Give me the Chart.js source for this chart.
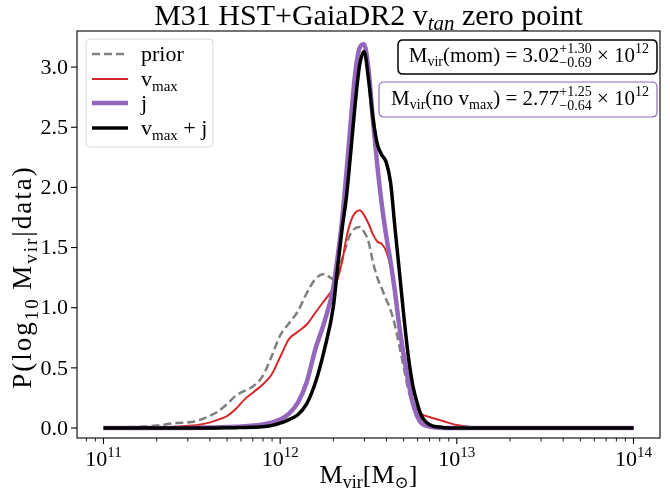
<!DOCTYPE html>
<html>
<head>
<meta charset="utf-8">
<script src="https://cdn.jsdelivr.net/npm/chart.js@4"></script>
<style>
html, body { margin: 0; padding: 0; background: #fff; }
#contenedor { width: 670px; height: 492px; }
</style>
</head>
<body>
<div id="contenedor"><canvas id="grafica" width="670" height="492"></canvas></div>
<script>
// Datos (log10 Mvir y densidad de probabilidad)
const logM = [11.0, 11.2, 11.3, 11.4, 11.5, 11.55, 11.6, 11.65, 11.7, 11.75, 11.8, 11.85, 11.9, 11.95,
    12.0, 12.05, 12.1, 12.15, 12.2, 12.25, 12.3, 12.325, 12.35, 12.375, 12.4, 12.425, 12.45, 12.475,
    12.5, 12.525, 12.55, 12.575, 12.6, 12.625, 12.65, 12.675, 12.7, 12.725, 12.75, 12.775, 12.8,
    12.85, 12.9, 12.95, 13.0, 13.1, 13.2, 13.5, 14.0];

const prior = [0, 0.01, 0.02, 0.04, 0.05, 0.07, 0.10, 0.14, 0.20, 0.27, 0.31, 0.35, 0.43, 0.59,
    0.77, 0.87, 0.97, 1.12, 1.24, 1.28, 1.24, 1.28, 1.40, 1.52, 1.62, 1.66, 1.67, 1.63,
    1.55, 1.38, 1.25, 1.16, 1.07, 0.98, 0.85, 0.68, 0.50, 0.32, 0.20, 0.12, 0.06,
    0.02, 0.01, 0.005, 0, 0, 0, 0, 0];

const vmax = [0, 0.003, 0.005, 0.01, 0.02, 0.03, 0.045, 0.07, 0.10, 0.16, 0.24, 0.30, 0.36, 0.44,
    0.59, 0.74, 0.80, 0.86, 0.96, 1.06, 1.16, 1.24, 1.38, 1.58, 1.72, 1.79, 1.81, 1.77,
    1.70, 1.61, 1.55, 1.53, 1.47, 1.34, 1.12, 0.85, 0.59, 0.38, 0.23, 0.15, 0.115,
    0.09, 0.068, 0.045, 0.025, 0.005, 0, 0, 0];

const jSolo = [0, 0, 0, 0, 0, 0.002, 0.004, 0.006, 0.008, 0.01, 0.015, 0.02, 0.03, 0.045,
    0.07, 0.12, 0.21, 0.38, 0.66, 0.88, 1.16, 1.42, 1.72, 2.12, 2.55, 2.95, 3.16, 3.19,
    2.98, 2.56, 2.18, 1.86, 1.60, 1.38, 1.13, 0.84, 0.60, 0.39, 0.21, 0.10, 0.04,
    0.01, 0.003, 0, 0, 0, 0, 0, 0];

const vmaxJ = [0, 0, 0, 0, 0, 0, 0, 0.001, 0.002, 0.003, 0.004, 0.006, 0.01, 0.02,
    0.04, 0.07, 0.11, 0.20, 0.38, 0.65, 1.00, 1.33, 1.65, 1.92, 2.30, 2.70, 3.02, 3.13,
    2.90, 2.58, 2.36, 2.27, 2.21, 2.04, 1.66, 1.30, 0.93, 0.60, 0.36, 0.21, 0.10,
    0.025, 0.008, 0, 0, 0, 0, 0, 0];

const yTicks = [0, 0.5, 1.0, 1.5, 2.0, 2.5, 3.0];
const xExponentes = [11, 12, 13, 14];

const FAM = '"Liberation Serif", "DejaVu Serif", serif';

function puntos(valores) {
    return logM.map((l, i) => ({ x: Math.pow(10, l), y: valores[i] }));
}

// Dibuja texto con subindices / superindices
function textoRico(ctx, partes, x, y, align) {
    const anchos = partes.map(p => {
        if (p.sup !== undefined) {
            ctx.font = p.s + 'px ' + FAM;
            return Math.max(ctx.measureText(p.sup).width, ctx.measureText(p.sub).width);
        }
        ctx.font = (p.it ? 'italic ' : '') + p.s + 'px ' + FAM;
        return ctx.measureText(p.t).width;
    });
    const total = anchos.reduce((a, b) => a + b, 0);
    let cx = x;
    if (align === 'center') cx = x - total / 2;
    if (align === 'right') cx = x - total;
    ctx.textAlign = 'left';
    ctx.textBaseline = 'alphabetic';
    partes.forEach((p, i) => {
        if (p.sup !== undefined) {
            ctx.font = p.s + 'px ' + FAM;
            ctx.fillText(p.sup, cx, y + p.up);
            ctx.fillText(p.sub, cx, y + p.dn);
        } else {
            ctx.font = (p.it ? 'italic ' : '') + p.s + 'px ' + FAM;
            ctx.fillText(p.t, cx, y + (p.dy || 0));
        }
        cx += anchos[i];
    });
    return total;
}

function cajaRedondeada(ctx, x0, y0, x1, y1, r) {
    ctx.beginPath();
    ctx.moveTo(x0 + r, y0);
    ctx.lineTo(x1 - r, y0);
    ctx.quadraticCurveTo(x1, y0, x1, y0 + r);
    ctx.lineTo(x1, y1 - r);
    ctx.quadraticCurveTo(x1, y1, x1 - r, y1);
    ctx.lineTo(x0 + r, y1);
    ctx.quadraticCurveTo(x0, y1, x0, y1 - r);
    ctx.lineTo(x0, y0 + r);
    ctx.quadraticCurveTo(x0, y0, x0 + r, y0);
    ctx.closePath();
}

const series = [
    { label: 'prior', data: prior, color: '#7f7f7f', ancho: 2.5, guion: [8, 4], orden: 4 },
    { label: 'vmax', data: vmax, color: '#d62728', ancho: 2, guion: [], orden: 3 },
    { label: 'j', data: jSolo, color: '#9467bd', ancho: 4.5, guion: [], orden: 2 },
    { label: 'vmax + j', data: vmaxJ, color: '#000000', ancho: 3.5, guion: [], orden: 1 }
];

const decoracion = {
    id: 'decoracion',
    afterDraw(chart) {
        const ctx = chart.ctx;
        const a = chart.chartArea;
        const sx = chart.scales.x;
        const sy = chart.scales.y;
        ctx.save();
        ctx.fillStyle = '#000';
        ctx.strokeStyle = '#000';

        // Marco
        ctx.lineWidth = 1.1;
        ctx.strokeRect(a.left, a.top, a.right - a.left, a.bottom - a.top);

        // Ticks eje Y
        yTicks.forEach(v => {
            const py = sy.getPixelForValue(v);
            ctx.beginPath();
            ctx.moveTo(a.left - 6, py);
            ctx.lineTo(a.left, py);
            ctx.stroke();
            ctx.font = '22px ' + FAM;
            ctx.textAlign = 'right';
            ctx.textBaseline = 'middle';
            ctx.fillText(v.toFixed(1), a.left - 9, py + 1);
        });

        // Ticks eje X (mayores y menores)
        xExponentes.forEach(e => {
            const px = sx.getPixelForValue(Math.pow(10, e));
            ctx.beginPath();
            ctx.moveTo(px, a.bottom);
            ctx.lineTo(px, a.bottom + 6);
            ctx.stroke();
            textoRico(ctx, [{ t: '10', s: 22 }, { t: String(e), s: 15, dy: -9 }], px, a.bottom + 28, 'center');
        });
        ctx.lineWidth = 0.9;
        for (let e = 10; e <= 14; e++) {
            for (let k = 2; k <= 9; k++) {
                const v = k * Math.pow(10, e);
                if (v < sx.min || v > sx.max) continue;
                const px = sx.getPixelForValue(v);
                ctx.beginPath();
                ctx.moveTo(px, a.bottom);
                ctx.lineTo(px, a.bottom + 3.5);
                ctx.stroke();
            }
        }

        // Titulo
        textoRico(ctx, [
            { t: 'M31 HST+GaiaDR2 v', s: 30 },
            { t: 'tan', s: 21, dy: 5, it: true },
            { t: ' zero point', s: 30 }
        ], (a.left + a.right) / 2, 25, 'center');

        // Etiqueta eje X
        textoRico(ctx, [
            { t: 'M', s: 26 }, { t: 'vir', s: 18, dy: 5 },
            { t: '[M', s: 26 }, { t: '\u2299', s: 17, dy: 5 }, { t: ']', s: 26 }
        ], (a.left + a.right) / 2, 483, 'center');

        // Etiqueta eje Y (girada)
        ctx.save();
        ctx.translate(31, 277);
        ctx.rotate(-Math.PI / 2);
        ctx.letterSpacing = '2px';
        textoRico(ctx, [
            { t: 'P(log', s: 27 }, { t: '10', s: 19, dy: 7 },
            { t: '\u2009M', s: 27 }, { t: 'vir', s: 19, dy: 6 },
            { t: '|data)', s: 27 }
        ], 0, 0, 'center');
        ctx.restore();

        // Leyenda
        ctx.lineWidth = 1;
        ctx.strokeStyle = '#d9d9d9';
        ctx.fillStyle = 'rgba(255,255,255,0.8)';
        cajaRedondeada(ctx, 86, 39, 213, 147, 4);
        ctx.fill();
        ctx.stroke();
        const filas = [54, 79, 103, 128];
        const textos = [
            [{ t: 'prior', s: 22 }],
            [{ t: 'v', s: 22 }, { t: 'max', s: 15, dy: 5 }],
            [{ t: 'j', s: 22 }],
            [{ t: 'v', s: 22 }, { t: 'max', s: 15, dy: 5 }, { t: ' + j', s: 22 }]
        ];
        series.forEach((s, i) => {
            ctx.strokeStyle = s.color;
            ctx.lineWidth = s.ancho;
            ctx.setLineDash(s.guion);
            ctx.beginPath();
            ctx.moveTo(92, filas[i]);
            ctx.lineTo(128, filas[i]);
            ctx.stroke();
            ctx.setLineDash([]);
            ctx.fillStyle = '#000';
            textoRico(ctx, textos[i], 141, filas[i] + 7, 'left');
        });

        // Cajas de resultados
        ctx.fillStyle = '#fff';
        ctx.strokeStyle = '#000';
        ctx.lineWidth = 1.5;
        cajaRedondeada(ctx, 398, 40, 657, 74, 5);
        ctx.fill();
        ctx.stroke();
        ctx.fillStyle = '#000';
        textoRico(ctx, [
            { t: 'M', s: 21 }, { t: 'vir', s: 14, dy: 4 },
            { t: '(mom) = 3.02', s: 21 },
            { sup: '+1.30', sub: '\u22120.69', s: 14, up: -9, dn: 5 },
            { t: ' \u00d7 10', s: 21 }, { t: '12', s: 14, dy: -9 }
        ], 649, 62, 'right');

        ctx.fillStyle = '#fff';
        ctx.strokeStyle = '#9467bd';
        ctx.lineWidth = 1.2;
        cajaRedondeada(ctx, 379, 82, 657, 117, 5);
        ctx.fill();
        ctx.stroke();
        ctx.fillStyle = '#000';
        textoRico(ctx, [
            { t: 'M', s: 21 }, { t: 'vir', s: 14, dy: 4 },
            { t: '(no v', s: 21 }, { t: 'max', s: 14, dy: 4 },
            { t: ') = 2.77', s: 21 },
            { sup: '+1.25', sub: '\u22120.64', s: 14, up: -9, dn: 5 },
            { t: ' \u00d7 10', s: 21 }, { t: '12', s: 14, dy: -9 }
        ], 649, 105, 'right');

        ctx.restore();
    }
};

const ctx = document.getElementById('grafica').getContext('2d');
const myChart = new Chart(ctx, {
    type: 'line',
    data: {
        datasets: series.map(s => ({
            label: s.label,
            data: puntos(s.data),
            borderColor: s.color,
            borderWidth: s.ancho,
            borderDash: s.guion,
            pointRadius: 0,
            fill: false,
            cubicInterpolationMode: 'monotone',
            order: s.orden
        }))
    },
    options: {
        responsive: false,
        animation: false,
        layout: { padding: { left: 77, right: 10, top: 31, bottom: 54 } },
        plugins: {
            legend: { display: false },
            title: { display: false },
            tooltip: { enabled: false }
        },
        scales: {
            x: { type: 'logarithmic', display: false, min: Math.pow(10, 10.85), max: Math.pow(10, 14.15) },
            y: { type: 'linear', display: false, min: -0.083, max: 3.30 }
        }
    },
    plugins: [decoracion]
});
</script>
</body>
</html>
